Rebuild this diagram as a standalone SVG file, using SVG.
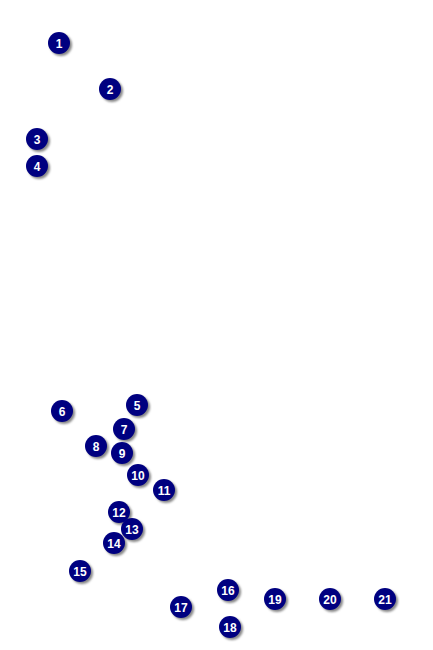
<svg xmlns="http://www.w3.org/2000/svg" width="433" height="650" viewBox="0 0 433 650">
<defs>
<filter id="sh" x="-50%" y="-50%" width="200%" height="200%"><feGaussianBlur stdDeviation="1"/></filter>
<g id="b"><circle cx="2" cy="2" r="11" fill="#888" filter="url(#sh)"/><circle r="11" fill="#000080"/></g>
</defs>
<style>
text{font-family:"Liberation Sans",Arial,sans-serif;font-weight:bold;font-size:12px;fill:#fff;text-anchor:middle}
</style>
<rect width="433" height="650" fill="#fff"/>
<g id="connectors"/>
<g id="n1" transform="translate(59,43)"><use href="#b"/><text y="4.5">1</text></g>
<g id="n2" transform="translate(110,89)"><use href="#b"/><text y="4.5">2</text></g>
<g id="n3" transform="translate(37,139)"><use href="#b"/><text y="4.5">3</text></g>
<g id="n4" transform="translate(37,166)"><use href="#b"/><text y="4.5">4</text></g>
<g id="n5" transform="translate(137,405)"><use href="#b"/><text y="4.5">5</text></g>
<g id="n6" transform="translate(62,411)"><use href="#b"/><text y="4.5">6</text></g>
<g id="n7" transform="translate(124,429)"><use href="#b"/><text y="4.5">7</text></g>
<g id="n8" transform="translate(96,446)"><use href="#b"/><text y="4.5">8</text></g>
<g id="n9" transform="translate(122,453)"><use href="#b"/><text y="4.5">9</text></g>
<g id="n10" transform="translate(138,475)"><use href="#b"/><text y="4.5">10</text></g>
<g id="n11" transform="translate(164,490)"><use href="#b"/><text y="4.5">11</text></g>
<g id="n12" transform="translate(119,512)"><use href="#b"/><text y="4.5">12</text></g>
<g id="n13" transform="translate(132,529)"><use href="#b"/><text y="4.5">13</text></g>
<g id="n14" transform="translate(114,543)"><use href="#b"/><text y="4.5">14</text></g>
<g id="n15" transform="translate(80,571)"><use href="#b"/><text y="4.5">15</text></g>
<g id="n16" transform="translate(228,590)"><use href="#b"/><text y="4.5">16</text></g>
<g id="n17" transform="translate(181,607)"><use href="#b"/><text y="4.5">17</text></g>
<g id="n18" transform="translate(230,627)"><use href="#b"/><text y="4.5">18</text></g>
<g id="n19" transform="translate(275,599)"><use href="#b"/><text y="4.5">19</text></g>
<g id="n20" transform="translate(330,599)"><use href="#b"/><text y="4.5">20</text></g>
<g id="n21" transform="translate(385,599)"><use href="#b"/><text y="4.5">21</text></g>
</svg>
